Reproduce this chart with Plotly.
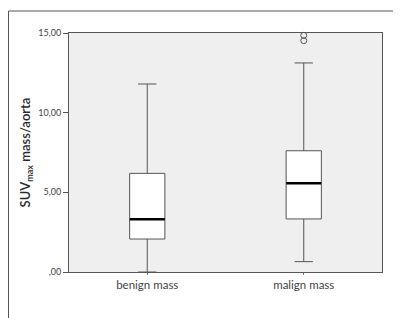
import plotly.graph_objects as go

categories = ["benign mass", "malign mass"]
q1_vals = [2.07, 3.33]
median_vals = [3.31, 5.57]
q3_vals = [6.19, 7.61]
lower_whisker = [0.0, 0.65]
upper_whisker = [11.80, 13.12]
outlier_x = ["malign mass", "malign mass"]
outlier_y = [14.85, 14.52]
y_tickvals = [0, 5, 10, 15]
y_ticktext = [",00", "5,00", "10,00", "15,00"]

# page body has an 8px default margin -> compensate
OFF = 8
W, H = 401 - OFF, 318 - OFF
L, R, T, B = 69 - OFF, 19, 33 - OFF, 46

fig = go.Figure()
fig.add_trace(go.Box(
    x=categories, q1=q1_vals, median=median_vals, q3=q3_vals,
    lowerfence=lower_whisker, upperfence=upper_whisker,
    boxpoints=False, fillcolor="white",
    line=dict(color="#555555", width=1), width=0.225, whiskerwidth=0.52,
    showlegend=False, hoverinfo="skip",
))
fig.add_trace(go.Scatter(
    x=categories, y=median_vals, mode="markers",
    marker=dict(symbol="line-ew", size=25, line=dict(color="black", width=2.5)),
    showlegend=False, hoverinfo="skip", cliponaxis=False,
))
fig.add_trace(go.Scatter(
    x=outlier_x, y=outlier_y, mode="markers",
    marker=dict(symbol="circle-open", size=6, color="#555555", line=dict(width=1)),
    showlegend=False, hoverinfo="skip", cliponaxis=False,
))

pw = W - L - R
ph = H - T - B
fx = 0.5   # frame left x in figure px
fy = 11 - OFF  # frame top y in figure px
fig.add_shape(type="line", xref="paper", yref="paper",
              x0=(fx - L) / pw, x1=(W - L) / pw, y0=(H - B - fy) / ph, y1=(H - B - fy) / ph,
              line=dict(color="#555555", width=1))
fig.add_shape(type="line", xref="paper", yref="paper",
              x0=(fx - L) / pw, x1=(fx - L) / pw, y0=(H - B - fy) / ph, y1=(H - B - H) / ph,
              line=dict(color="#555555", width=1))

fig.update_layout(
    width=W, height=H,
    margin=dict(l=L, r=R, t=T, b=B, autoexpand=False),
    paper_bgcolor="white", plot_bgcolor="#EFEFEF",
    font=dict(family="Lato", color="#444444"),
    showlegend=False,
)
fig.update_xaxes(
    type="category", range=[-0.5, 1.5], automargin=False,
    showline=True, linecolor="#555555", linewidth=1, mirror=True,
    ticks="outside", ticklen=2, tickcolor="#777777",
    tickfont=dict(size=11.5, color="#444444"),
    showgrid=False, zeroline=False,
)
fig.update_yaxes(
    range=[0, 15], tickvals=y_tickvals, ticktext=y_ticktext, automargin=False,
    showline=True, linecolor="#555555", linewidth=1, mirror=True,
    ticks="outside", ticklen=5, tickcolor="#555555",
    tickfont=dict(size=9, color="#444444"),
    showgrid=False, zeroline=False,
    title=dict(text="SUV<sub>max</sub> mass/aorta",
               font=dict(size=13, color="#2a2a2a", weight=600), standoff=4),
)

fig.write_html("out.html")
